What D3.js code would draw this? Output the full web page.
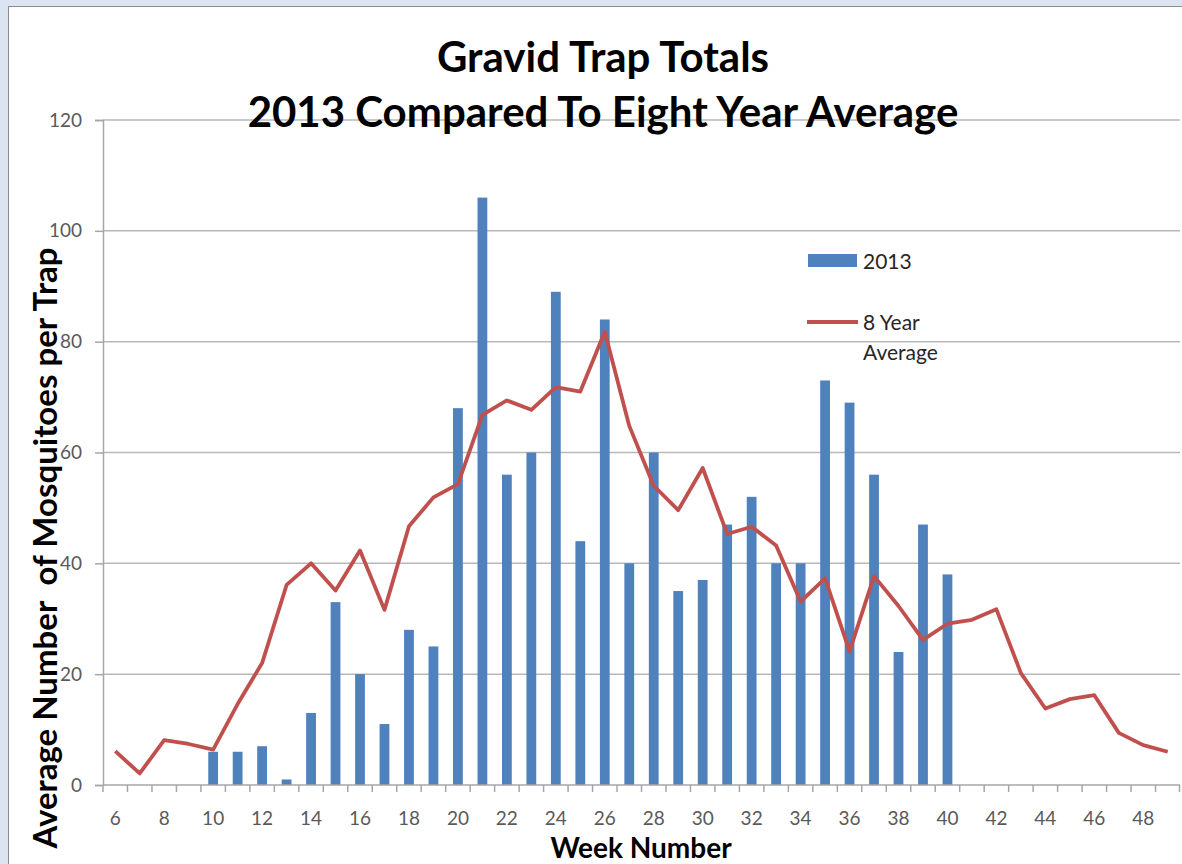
<!DOCTYPE html>
<html>
<head>
<meta charset="utf-8">
<script src="https://cdn.jsdelivr.net/npm/d3@7"></script>
<style>
  body { margin: 0; background: #dbe5f1; }
  #chart { width: 1182px; height: 864px; overflow: hidden; }
</style>
</head>
<body>
<div id="chart"></div>
<script>
// week numbers on the x axis
var weeks = [6, 7, 8, 9, 10, 11, 12, 13, 14, 15, 16, 17, 18, 19, 20, 21, 22, 23, 24, 25, 26, 27,
             28, 29, 30, 31, 32, 33, 34, 35, 36, 37, 38, 39, 40, 41, 42, 43, 44, 45, 46, 47, 48, 49];
// 2013 bars, weeks 10 - 40
var weeks2013 = [10, 11, 12, 13, 14, 15, 16, 17, 18, 19, 20, 21, 22, 23, 24, 25, 26, 27, 28, 29,
                 30, 31, 32, 33, 34, 35, 36, 37, 38, 39, 40];
var counts2013 = [6, 6, 7, 1, 13, 33, 20, 11, 28, 25, 68, 106, 56, 60, 89, 44, 84, 40, 60, 35,
                  37, 47, 52, 40, 40, 73, 69, 56, 24, 47, 38];
// 8 year average line, one value per week
var avg8yr = [6.1, 2.1, 8.1, 7.4, 6.4, 14.6, 22.0, 36.1, 40.0, 35.1, 42.3, 31.6, 46.7, 51.9, 54.3,
              66.8, 69.4, 67.7, 71.8, 71.0, 81.8, 64.8, 54.0, 49.6, 57.2, 45.3, 46.6, 43.2, 33.1,
              37.3, 24.1, 37.7, 32.3, 26.2, 29.1, 29.8, 31.7, 20.2, 13.8, 15.5, 16.2, 9.4, 7.2, 6.0];
var yTicks = [0, 20, 40, 60, 80, 100, 120];
var xLabelWeeks = [6, 8, 10, 12, 14, 16, 18, 20, 22, 24, 26, 28, 30, 32, 34, 36, 38, 40, 42, 44, 46, 48];

var W = 1182, H = 864;
var margin = {top: 120, right: 2, bottom: 79, left: 103};
var width = W - margin.left - margin.right;
var height = H - margin.top - margin.bottom;
var font = "Lato, 'Open Sans', sans-serif";

var root = d3.select("#chart").append("svg")
    .attr("width", W)
    .attr("height", H);

// white chart frame
root.append("rect")
    .attr("x", 8.5).attr("y", 6.5)
    .attr("width", W).attr("height", H)
    .attr("fill", "#ffffff")
    .attr("stroke", "#8c8c8c")
    .attr("stroke-width", 1);

var svg = root.append("g")
    .attr("transform", "translate(" + margin.left + "," + margin.top + ")");

var x = d3.scaleBand()
    .domain(weeks)
    .range([0, width])
    .paddingInner(0)
    .paddingOuter(0);

var y = d3.scaleLinear()
    .domain([0, 120])
    .range([height, 0]);

// gridlines
svg.append("g")
    .selectAll("line")
    .data(yTicks.filter(function(d) { return d > 0; }))
    .enter().append("line")
      .attr("x1", 0).attr("x2", width)
      .attr("y1", function(d) { return y(d); })
      .attr("y2", function(d) { return y(d); })
      .attr("stroke", "#b8b8b8")
      .attr("stroke-width", 1.5);

// y axis
var yAxis = svg.append("g")
    .call(d3.axisLeft(y).tickValues(yTicks).tickSize(8).tickPadding(13));
yAxis.select(".domain").attr("stroke", "#a6a6a6").attr("stroke-width", 1.5);
yAxis.selectAll(".tick line").attr("stroke", "#a6a6a6").attr("stroke-width", 1.5);
yAxis.selectAll("text")
    .attr("font-family", font)
    .attr("font-size", "19px")
    .attr("fill", "#595959");

// bars
var bw = x.bandwidth() * 0.4;
svg.append("g")
    .selectAll("rect")
    .data(weeks2013)
    .enter().append("rect")
      .attr("x", function(d) { return x(d) + (x.bandwidth() - bw) / 2; })
      .attr("width", bw)
      .attr("y", function(d, i) { return y(counts2013[i]); })
      .attr("height", function(d, i) { return height - y(counts2013[i]); })
      .attr("fill", "#4f81bd");

// x axis with ticks at the band edges
var xAxis = svg.append("g")
    .attr("transform", "translate(0," + height + ")");
xAxis.append("line")
    .attr("x1", 0).attr("x2", width)
    .attr("stroke", "#a6a6a6").attr("stroke-width", 1.5);
xAxis.selectAll(".edge")
    .data(weeks.concat(["end"]))
    .enter().append("line")
      .attr("class", "edge")
      .attr("x1", function(d) { return d === "end" ? width - 0.5 : x(d); })
      .attr("x2", function(d) { return d === "end" ? width - 0.5 : x(d); })
      .attr("y1", 0).attr("y2", 7)
      .attr("stroke", "#a6a6a6").attr("stroke-width", 1.5);
xAxis.selectAll(".lbl")
    .data(xLabelWeeks)
    .enter().append("text")
      .attr("class", "lbl")
      .attr("x", function(d) { return x(d) + x.bandwidth() / 2; })
      .attr("y", 40)
      .attr("text-anchor", "middle")
      .attr("font-family", font)
      .attr("font-size", "19px")
      .attr("fill", "#595959")
      .text(function(d) { return d; });

// 8 year average line
var line = d3.line()
    .x(function(d, i) { return x(weeks[i]) + x.bandwidth() / 2; })
    .y(function(d) { return y(d); });
svg.append("path")
    .datum(avg8yr)
    .attr("d", line)
    .attr("fill", "none")
    .attr("stroke", "#c0504d")
    .attr("stroke-width", 3.8)
    .attr("stroke-linejoin", "round");

// titles
root.append("text")
    .attr("x", 603).attr("y", 72)
    .attr("text-anchor", "middle")
    .attr("font-family", font)
    .attr("font-weight", "bold")
    .attr("font-size", "42px")
    .attr("fill", "#000")
    .text("Gravid Trap Totals");
root.append("text")
    .attr("x", 603).attr("y", 127)
    .attr("text-anchor", "middle")
    .attr("font-family", font)
    .attr("font-weight", "bold")
    .attr("font-size", "42px")
    .attr("fill", "#000")
    .text("2013 Compared To Eight Year Average");

root.append("text")
    .attr("x", 641).attr("y", 858)
    .attr("text-anchor", "middle")
    .attr("font-family", font)
    .attr("font-weight", "bold")
    .attr("font-size", "28px")
    .attr("fill", "#000")
    .text("Week Number");

root.append("text")
    .attr("transform", "translate(57,548) rotate(-90)")
    .attr("text-anchor", "middle")
    .attr("font-family", font)
    .attr("font-weight", "bold")
    .attr("font-size", "33px")
    .attr("fill", "#000")
    .attr("xml:space", "preserve")
    .text("Average Number  of Mosquitoes per Trap");

// legend
var legend = root.append("g");
legend.append("rect")
    .attr("x", 808).attr("y", 254)
    .attr("width", 49).attr("height", 13)
    .attr("fill", "#4f81bd");
legend.append("text")
    .attr("x", 863).attr("y", 269)
    .attr("font-family", font)
    .attr("font-size", "21px")
    .attr("fill", "#262626")
    .text("2013");
legend.append("line")
    .attr("x1", 807).attr("x2", 858)
    .attr("y1", 322).attr("y2", 322)
    .attr("stroke", "#c0504d")
    .attr("stroke-width", 3.8);
legend.append("text")
    .attr("x", 863).attr("y", 330)
    .attr("font-family", font)
    .attr("font-size", "21px")
    .attr("fill", "#262626")
    .text("8 Year");
legend.append("text")
    .attr("x", 863).attr("y", 360)
    .attr("font-family", font)
    .attr("font-size", "21px")
    .attr("fill", "#262626")
    .text("Average");
</script>
</body>
</html>
